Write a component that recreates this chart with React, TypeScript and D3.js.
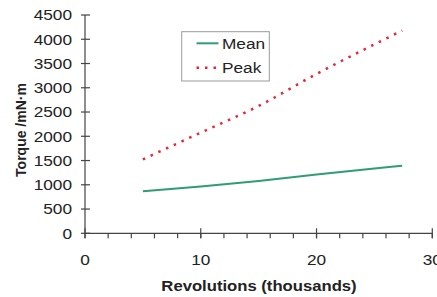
import * as d3 from "d3";

const revolutions = [5, 10, 15, 20, 25, 27.4];
const meanTorque = [866, 965, 1080, 1210, 1335, 1393];
const peakTorque = [1525, 2075, 2625, 3285, 3895, 4180];

const yTicks = [0, 500, 1000, 1500, 2000, 2500, 3000, 3500, 4000, 4500];
const xMajorTicks = [0, 10, 20, 30];
const xMinorTicks = d3.range(0, 30.01, 2);

const seriesNames = ["Mean", "Peak"];

const W = 437;
const H = 297;
const FONT = "Arial, 'Liberation Sans', sans-serif";
const TEXT = "#222";
const AXIS = "#444";
// the reference text is a bit wider than the plain font
const STRETCH = 1.15;

function Label({
  x,
  y,
  anchor = "start",
  size = 15,
  bold = false,
  children,
}: {
  x: number;
  y: number;
  anchor?: "start" | "middle" | "end";
  size?: number;
  bold?: boolean;
  children: React.ReactNode;
}) {
  return (
    <g transform={`translate(${x},${y}) scale(${STRETCH},1)`}>
      <text
        dy="0.36em"
        textAnchor={anchor}
        fontSize={size}
        fontWeight={bold ? "bold" : "normal"}
        fill={TEXT}
      >
        {children}
      </text>
    </g>
  );
}

export default function App() {
  const x = d3.scaleLinear().domain([0, 30]).range([85, 432.3]);
  const y = d3.scaleLinear().domain([0, 4500]).range([233.3, 15]);

  const line = d3
    .line<number>()
    .x((_, i) => x(revolutions[i]))
    .y((d) => y(d))
    .curve(d3.curveMonotoneX);

  return (
    <svg
      width={W}
      height={H}
      style={{ position: "fixed", left: 0, top: 0, background: "#fff" }}
      fontFamily={FONT}
    >
      {/* y axis */}
      <line x1={x(0)} x2={x(0)} y1={y(0)} y2={y(4500)} stroke={AXIS} strokeWidth={1.2} />
      {yTicks.map((t) => (
        <g key={t}>
          <line x1={x(0) - 4} x2={x(0) + 5} y1={y(t)} y2={y(t)} stroke={AXIS} strokeWidth={1.2} />
          <Label x={x(0) - 13} y={y(t)} anchor="end">
            {t}
          </Label>
        </g>
      ))}

      {/* x axis */}
      <line x1={x(0)} x2={x(30)} y1={y(0)} y2={y(0)} stroke={AXIS} strokeWidth={1.2} />
      {xMinorTicks.map((t) => (
        <line key={"m" + t} x1={x(t)} x2={x(t)} y1={y(0)} y2={y(0) + 5} stroke={AXIS} strokeWidth={1.2} />
      ))}
      {xMajorTicks.map((t) => (
        <g key={t}>
          <line x1={x(t)} x2={x(t)} y1={y(0) - 5} y2={y(0) + 5} stroke={AXIS} strokeWidth={1.2} />
          <Label x={x(t)} y={260} anchor="middle">
            {t}
          </Label>
        </g>
      ))}

      {/* axis titles */}
      <Label x={259} y={286} anchor="middle" size={14.5} bold>
        Revolutions (thousands)
      </Label>
      <text
        transform={`translate(21,130) rotate(-90)`}
        dy="0.36em"
        textAnchor="middle"
        fontSize={14}
        fontWeight="bold"
        fill={TEXT}
      >
        Torque /mN·m
      </text>

      {/* series */}
      <path d={line(meanTorque) ?? ""} fill="none" stroke="#2e9e72" strokeWidth={2} />
      <path
        d={line(peakTorque) ?? ""}
        fill="none"
        stroke="#e8243c"
        strokeWidth={2.5}
        strokeDasharray="2.5,6"
      />

      {/* legend */}
      <rect x={181.7} y={31.7} width={87.6} height={49.3} fill="#fff" stroke="#999" strokeWidth={1} />
      <line x1={196.5} x2={218.5} y1={43.3} y2={43.3} stroke="#2e9e72" strokeWidth={2} />
      <line x1={196.5} x2={218.5} y1={67.7} y2={67.7} stroke="#e8243c" strokeWidth={2.5} strokeDasharray="2.5,6" />
      <Label x={222} y={43.3}>
        {seriesNames[0]}
      </Label>
      <Label x={222} y={67.7}>
        {seriesNames[1]}
      </Label>
    </svg>
  );
}
